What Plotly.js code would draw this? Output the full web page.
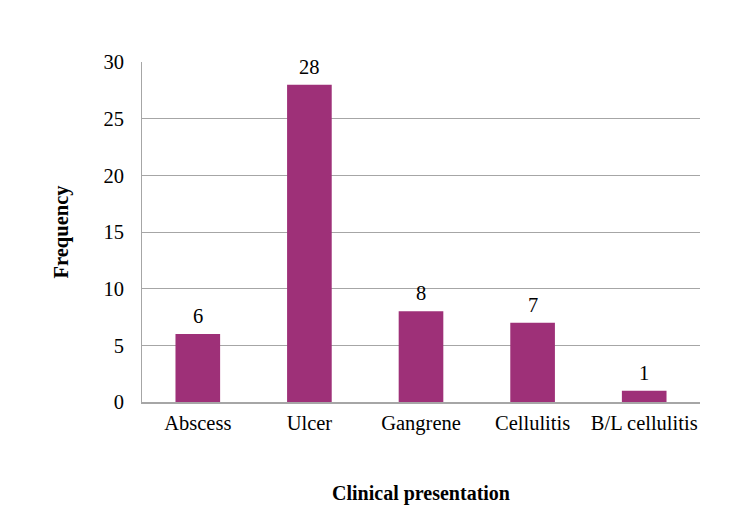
<!DOCTYPE html>
<html>
<head>
<meta charset="utf-8">
<script src="https://cdn.plot.ly/plotly-3.0.1.min.js"></script>
<style>html,body{margin:0;padding:0;background:#fff;}#chart{width:750px;height:523px;}</style>
</head>
<body>
<div id="chart"></div>
<script>
var categories = ["Abscess", "Ulcer", "Gangrene", "Cellulitis", "B/L cellulitis"];
var frequency = [6, 28, 8, 7, 1];
var yTicks = [0, 5, 10, 15, 20, 25, 30];

var trace = {
  type: "bar",
  x: categories,
  y: frequency,
  marker: {color: "#9E3078"},
  hoverinfo: "x+y"
};

var labels = categories.map(function (c, i) {
  return {
    x: c, y: frequency[i], xref: "x", yref: "y",
    text: String(frequency[i]), showarrow: false,
    yanchor: "bottom", yshift: 5,
    font: {family: "Liberation Serif", size: 20.5, color: "#000"}
  };
});

var layout = {
  width: 750, height: 523,
  margin: {l: 142, r: 50, t: 62, b: 121},
  paper_bgcolor: "#fff", plot_bgcolor: "#fff",
  bargap: 0.6,
  showlegend: false,
  annotations: labels,
  font: {family: "Liberation Serif", size: 20.5, color: "#000"},
  xaxis: {
    type: "category",
    showline: true, linecolor: "#A6A6A6", linewidth: 1.5,
    ticks: "", showgrid: false,
    ticklabelstandoff: 2,
    tickfont: {family: "Liberation Serif", size: 20.5, color: "#000"},
    title: {text: "<b>Clinical presentation</b>", font: {family: "Liberation Serif", size: 20, color: "#000"}, standoff: 52}
  },
  yaxis: {
    range: [0, 30],
    tickvals: yTicks,
    ticktext: yTicks.map(String),
    showline: true, linecolor: "#A6A6A6", linewidth: 1,
    showgrid: true, gridcolor: "#A6A6A6", gridwidth: 1,
    zeroline: false,
    ticks: "",
    ticklabelstandoff: 13,
    tickfont: {family: "Liberation Serif", size: 20.5, color: "#000"},
    title: {text: "<b>Frequency</b>", font: {family: "Liberation Serif", size: 20.5, color: "#000"}, standoff: 29}
  }
};

Plotly.newPlot("chart", [trace], layout, {displayModeBar: false, staticPlot: true});
</script>
</body>
</html>
